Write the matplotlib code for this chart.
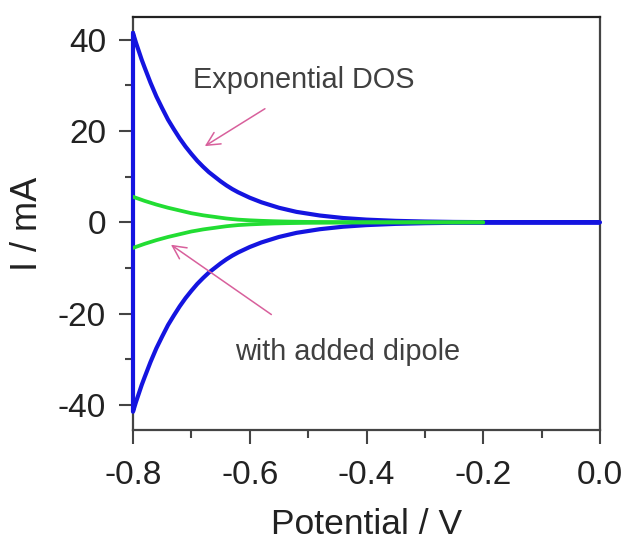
import matplotlib
matplotlib.use("Agg")
import matplotlib.pyplot as plt
from matplotlib.ticker import MultipleLocator

plt.rcParams['font.family'] = ['Liberation Sans', 'DejaVu Sans']

# Blue curve ("Exponential DOS"), upper and lower branches
blue_x = [-0.800, -0.795, -0.790, -0.785, -0.780, -0.770, -0.760, -0.750, -0.740,
          -0.730, -0.720, -0.710, -0.700, -0.690, -0.680, -0.670, -0.660, -0.650,
          -0.640, -0.630, -0.620, -0.610, -0.600, -0.580, -0.550, -0.520, -0.480,
          -0.440, -0.400, -0.350, -0.300, -0.250, -0.200, -0.100, 0.000]
blue_up = [41.5, 39.4, 37.5, 35.6, 33.9, 30.6, 27.6, 25.0, 22.5,
           20.4, 18.4, 16.6, 15.0, 13.5, 12.2, 11.0, 10.0, 9.0,
           8.1, 7.3, 6.6, 6.0, 5.4, 4.4, 3.2, 2.3, 1.5,
           0.95, 0.6, 0.33, 0.18, 0.09, 0.05, 0.01, 0.0]
blue_dn = [-41.5, -39.4, -37.5, -35.6, -33.9, -30.6, -27.6, -25.0, -22.5,
           -20.4, -18.4, -16.6, -15.0, -13.5, -12.2, -11.0, -10.0, -9.0,
           -8.1, -7.3, -6.6, -6.0, -5.4, -4.4, -3.2, -2.3, -1.5,
           -0.95, -0.6, -0.33, -0.18, -0.09, -0.05, -0.01, 0.0]

# Green curve ("with added dipole")
green_x = [-0.80, -0.79, -0.78, -0.77, -0.76, -0.75, -0.74, -0.73, -0.72, -0.71,
           -0.70, -0.69, -0.68, -0.67, -0.66, -0.65, -0.64, -0.63, -0.62, -0.60,
           -0.58, -0.56, -0.53, -0.50, -0.40, -0.30, -0.20]
green_up = [5.6, 5.15, 4.7, 4.3, 3.9, 3.55, 3.2, 2.9, 2.6, 2.3,
            2.0, 1.78, 1.55, 1.37, 1.2, 1.02, 0.85, 0.72, 0.6, 0.45,
            0.34, 0.25, 0.16, 0.1, 0.03, 0.01, 0.0]
green_dn = [-5.6, -5.15, -4.7, -4.3, -3.9, -3.55, -3.2, -2.9, -2.6, -2.3,
            -2.0, -1.78, -1.55, -1.37, -1.2, -1.02, -0.85, -0.72, -0.6, -0.45,
            -0.34, -0.25, -0.16, -0.1, -0.03, -0.01, 0.0]

x_ticks = [-0.8, -0.6, -0.4, -0.2, 0.0]
x_ticklabels = ["-0.8", "-0.6", "-0.4", "-0.2", "0.0"]
y_ticks = [-40, -20, 0, 20, 40]
y_ticklabels = ["-40", "-20", "0", "20", "40"]

fig = plt.figure(figsize=(6.26, 5.43), dpi=100)
ax = fig.add_axes([133/626, 1-430/543, (600-133)/626, (430-17)/543])

blue_c = '#1414e0'
green_c = '#22dd33'

# blue closed loop: upper branch, back along lower branch, vertical at start
bx = blue_x + blue_x[::-1] + [blue_x[0]]
by = blue_up + blue_dn[::-1] + [blue_up[0]]
ax.plot(bx, by, color=blue_c, lw=3.0, solid_joinstyle='round', solid_capstyle='round',
        zorder=3, clip_on=False)
ax.plot(green_x, green_up, color=green_c, lw=2.7, zorder=4, solid_capstyle='round')
ax.plot(green_x, green_dn, color=green_c, lw=2.7, zorder=4, solid_capstyle='round')

ax.set_xlim(-0.8, 0.0)
ax.set_ylim(-45.5, 45)
ax.set_xticks(x_ticks)
ax.set_xticklabels(x_ticklabels)
ax.set_yticks(y_ticks)
ax.set_yticklabels(y_ticklabels)
ax.xaxis.set_minor_locator(MultipleLocator(0.1))
ax.yaxis.set_minor_locator(MultipleLocator(10))

spine_c = '#444444'
for s in ax.spines.values():
    s.set_color(spine_c)
    s.set_linewidth(1.6)
ax.spines['top'].set_color('#222222')
ax.tick_params(which='major', direction='out', length=10, width=1.5, color=spine_c,
               labelsize=24, labelcolor='#222222')
ax.tick_params(axis='x', which='major', pad=11.5)
ax.tick_params(axis='y', which='major', pad=9.5)
ax.tick_params(which='minor', direction='out', length=5.5, width=1.5, color=spine_c)

ax.set_xlabel("Potential / V", fontsize=25.5, color='#222222', labelpad=12)
ax.set_ylabel("I / mA", fontsize=26, color='#222222', labelpad=9)

txt_c = '#404040'
arrow_c = '#d8609c'
ax.text(-0.697, 31.1, "Exponential DOS", fontsize=20.8, color=txt_c, va='center', ha='left')
ax.text(-0.625, -28.3, "with added dipole", fontsize=20.8, color=txt_c, va='center', ha='left')
ax.annotate("", xy=(-0.677, 16.7), xytext=(-0.574, 24.9),
            arrowprops=dict(arrowstyle='->', color=arrow_c, lw=1.1,
                            mutation_scale=24, shrinkA=0, shrinkB=0))
ax.annotate("", xy=(-0.735, -4.9), xytext=(-0.563, -20.2),
            arrowprops=dict(arrowstyle='->', color=arrow_c, lw=1.1,
                            mutation_scale=24, shrinkA=0, shrinkB=0))

fig.savefig("out.png", dpi=100)
